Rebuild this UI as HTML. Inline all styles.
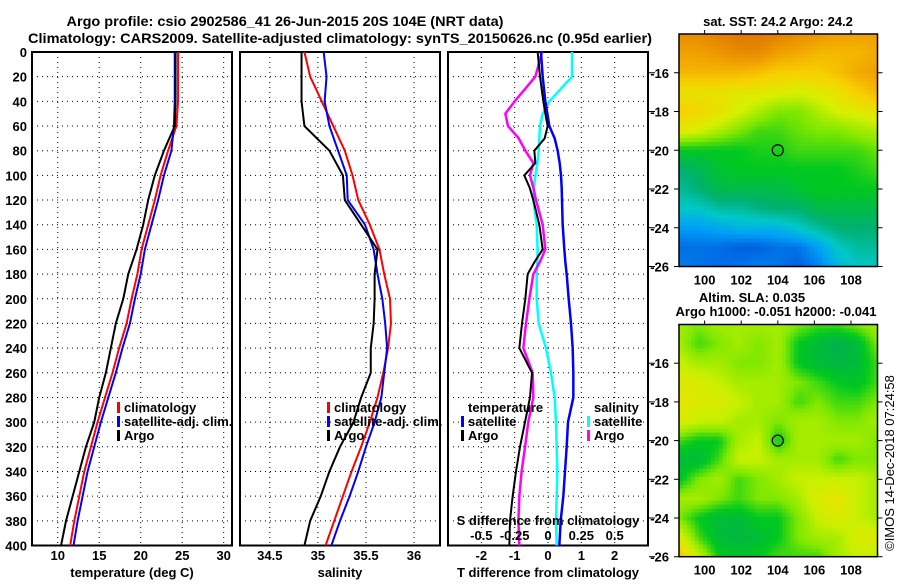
<!DOCTYPE html>
<html><head><meta charset="utf-8"><style>
html,body{margin:0;padding:0;background:#fff}
svg text{font-family:"Liberation Sans",Arial,sans-serif;font-weight:bold;fill:#000}
</style></head><body>
<svg id="fig" width="900" height="580" viewBox="0 0 900 580" xmlns="http://www.w3.org/2000/svg">
<text x="285" y="26" font-size="14" text-anchor="middle" textLength="437" lengthAdjust="spacingAndGlyphs">Argo profile: csio 2902586_41 26-Jun-2015 20S 104E (NRT data)</text>
<text x="340" y="43" font-size="14" text-anchor="middle" textLength="624" lengthAdjust="spacingAndGlyphs">Climatology: CARS2009. Satellite-adjusted climatology: synTS_20150626.nc (0.95d earlier)</text>
<text x="778" y="26" font-size="13" text-anchor="middle">sat. SST: 24.2 Argo: 24.2</text>
<text x="752" y="302" font-size="13" text-anchor="middle">Altim. SLA: 0.035</text>
<text x="776" y="316" font-size="13" text-anchor="middle">Argo h1000: -0.051 h2000: -0.041</text>
<text transform="translate(894,463) rotate(-90)" font-size="13" font-weight="normal" style="font-weight:normal" text-anchor="middle">©IMOS 14-Dec-2018 07:24:58</text>
<g id="g"></g>
</svg>
<script>
// ---- data ----
const depths = [0,20,40,60,80,100,120,140,160,180,200,220,240,260,280,300,320,340,360,380,400];
const tempClim = [24.5,24.5,24.5,24.3,23.3,22.4,21.7,20.9,20.1,19.6,18.9,18.3,17.4,16.6,15.7,14.8,14.0,13.2,12.6,12.0,11.5];
const tempSat  = [24.1,24.1,24.1,24.0,23.7,22.8,22.1,21.3,20.5,20.0,19.3,18.7,17.8,17.0,16.1,15.2,14.4,13.6,13.0,12.4,11.9];
const tempArgo = [24.2,24.2,24.2,24.1,22.8,21.7,20.9,20.3,19.5,18.5,17.9,17.0,16.4,15.8,15.0,14.4,13.4,12.6,11.8,11.0,10.4];
const salClim  = [34.86,34.92,35.04,35.16,35.28,35.36,35.42,35.54,35.64,35.69,35.75,35.76,35.73,35.68,35.62,35.54,35.45,35.35,35.26,35.17,35.08];
const salSat   = [35.06,35.09,35.07,35.12,35.21,35.30,35.31,35.49,35.58,35.62,35.67,35.70,35.72,35.69,35.66,35.59,35.50,35.42,35.33,35.23,35.14];
const salArgo  = [34.83,34.83,34.83,34.86,35.12,35.26,35.28,35.45,35.62,35.59,35.59,35.58,35.55,35.55,35.45,35.37,35.23,35.12,35.03,34.92,34.86];
const dDepths  = [0,20,40,50,60,70,80,90,100,110,120,140,160,170,180,200,220,240,260,280,300,320,340,360,380,400];
const tDiffSat = [-0.21,-0.16,-0.08,-0.02,0.04,0.2,0.29,0.35,0.39,0.41,0.42,0.44,0.49,0.52,0.56,0.62,0.69,0.74,0.76,0.76,0.6,0.56,0.51,0.46,0.38,0.34];
const tDiffArgo= [-0.31,-0.24,-0.14,-0.08,-0.01,-0.1,-0.41,-0.38,-0.71,-0.55,-0.44,-0.26,-0.16,-0.4,-0.61,-0.68,-0.78,-0.86,-0.48,-0.54,-0.69,-0.84,-0.96,-1.06,-1.14,-1.16];
const sDiffArgo= [-0.045,-0.095,-0.25,-0.32,-0.30,-0.22,-0.17,-0.11,-0.135,-0.11,-0.09,-0.04,-0.02,-0.06,-0.11,-0.14,-0.165,-0.185,-0.115,-0.11,-0.148,-0.172,-0.198,-0.215,-0.222,-0.215];
const sDiffSat = [0.18,0.18,0.01,-0.04,-0.06,-0.065,-0.07,-0.08,-0.095,-0.105,-0.11,-0.085,-0.078,-0.08,-0.085,-0.085,-0.07,-0.015,0.022,0.05,0.06,0.065,0.07,0.065,0.06,0.065];
const depthTicks = [0,20,40,60,80,100,120,140,160,180,200,220,240,260,280,300,320,340,360,380,400];
const tempTicks = [10,15,20,25,30];
const salTicks = [34.5,35,35.5,36];
const tdTicks = [-2,-1,0,1,2];
const sdTicks = [-0.5,-0.25,0,0.25,0.5];
const latTicks = [-16,-18,-20,-22,-24,-26];
const lonTicks = [100,102,104,106,108];
const sstGrid = [
[8.5,8.5,8.8,9,9,8.8,8.5,8.3,8,8,8],
[8,8,8.2,8.5,8.5,8,7.8,7.5,7.5,7.5,7.8],
[7.5,7.5,7.5,7.5,7.3,7,7,7,7.3,7.8,8],
[6.5,6.5,6.5,6.3,6.3,6.2,6,6.2,6.5,7,7.5],
[7,6.8,6.5,6,5.5,5,5,5.5,6,6.2,6.5],
[6.3,6,5.5,5,4.5,4.5,4.8,5,5,5.3,5.5],
[4,4,4,4,4.2,4.2,4.5,4.5,4.5,4.5,4.8],
[3,3.3,3.8,4,4,4,4,4,4,4.2,4.5],
[2.5,3,3.5,3.5,3.5,3.5,3.8,4,4,4,4],
[2,2,2.5,2.5,2.8,3,3,3.5,3.5,3.5,3.5],
[1,1,1.2,1.5,1.5,1.5,2,2.5,3,3,3],
[0.2,0.3,0.2,0,0,0.3,0.3,1,2,2.5,2.5],
[0.5,0.3,0.2,0.3,0.5,0.3,0,0.5,1.5,2,2]];
const slaGrid = [
[2.5,2,2.5,2.5,2.5,2.5,2,1.5,1.5,2,2.5],
[2.5,1.5,2,2.5,2,2.5,1,0.5,0,0.5,2],
[3,2.5,2.5,2,2,2.5,1,0.5,0.3,0.5,1.5],
[3.5,3.5,3,2.5,2.5,2.5,2,1.5,1,0.8,1.5],
[4,3.5,3.5,3,2.5,2.5,1.5,2,1.5,1.5,2],
[3.5,3,3,2.5,2.5,2,2.5,2.5,2,2,2.5],
[1.5,1,1,2.5,3,1,2.5,2.5,2.5,2.5,2],
[0.5,0.5,1.5,3,3,2.5,2.5,2.5,1.5,2,2],
[0.8,2,2.5,1.5,2,2.5,3,3,3,3,2.5],
[2.5,2.5,2,1.5,2,2,2.5,3.5,4,3,2.5],
[2,1,0.5,0.5,1,1,2,3,3.5,3,2.5],
[3.5,1.5,0.5,0.3,0.5,1,2,2.5,2.5,3.5,3.5],
[5,3,1,0.8,1,1.5,1.5,1.5,2.5,3,3]];
const sstColors = ["#0060e0","#00a0f8","#00c8c8","#00b070","#00c820","#80e800","#d8f000","#f8d000","#f0a000","#e07800"];
const slaColors = ["#00b050","#00c820","#80e800","#c8f000","#e8e400","#f0c000"];

// ---- helpers ----
const NS="http://www.w3.org/2000/svg", G=document.getElementById('g');
function mk(tag,attrs,parent){const e=document.createElementNS(NS,tag);for(const k in attrs)e.setAttribute(k,attrs[k]);(parent||G).appendChild(e);return e;}
const Y0=52, Y1=545.5;
const yD = d => Y0 + d/400*(Y1-Y0);

function panel(name,x0,x1,dom,ticks,fmt,title){
  const xs = v => x0 + (v-dom[0])/(dom[1]-dom[0])*(x1-x0);
  const g = mk('g',{});
  
  
  ticks.forEach(t=>{
    const l=mk('line',{x1:xs(t),x2:xs(t),y1:Y0,y2:Y1,stroke:'#000','stroke-width':1,'stroke-dasharray':'1,4'},g);
    
    
    const tx=mk('text',{x:xs(t),y:560,'font-size':13,'text-anchor':'middle'},g);
    tx.textContent=fmt(t);
    
    
  });
  depthTicks.forEach(d=>{
    if(d>0&&d<400){
      const l=mk('line',{x1:x0,x2:x1,y1:yD(d),y2:yD(d),stroke:'#000','stroke-width':1,'stroke-dasharray':'1,4'},g);
      
      
    }
  });
  const r=mk('rect',{x:x0,y:Y0,width:x1-x0,height:Y1-Y0,fill:'none',stroke:'#000','stroke-width':2},g);
  
  
  if(title){
    const tt=mk('text',{x:(x0+x1)/2,y:577,'font-size':13,'text-anchor':'middle'},g);
    tt.textContent=title;
    
    
  }
  return xs;
}
function line(xs,vals,ds,color,name,w){
  const p=mk('polyline',{points:vals.map((v,i)=>xs(v)+','+yD(ds[i])).join(' '),fill:'none',stroke:color,'stroke-width':w||2,'stroke-linejoin':'round'});
  
  
}
function legend(x,y,color,label,name){
  if(color){
    const b=mk('rect',{x:x,y:y-10,width:3,height:11,fill:color});
    
    
  }
  const t=mk('text',{x:x+7,y:y,'font-size':13});
  t.textContent=label;
  
  
}

// y labels
depthTicks.forEach(d=>{
  const t=mk('text',{x:27,y:yD(d)+5,'font-size':13,'text-anchor':'end'});
  t.textContent=d;
  
  
});

// panel 1
const xT = panel('temperature-panel',32,232,[6.9,31],tempTicks,v=>v,'temperature (deg C)');
line(xT,tempClim,depths,'#ff0000','temp-climatology-line');
line(xT,tempSat,depths,'#0000ff','temp-satellite-line');
line(xT,tempArgo,depths,'#000000','temp-argo-line');
legend(117,412,'#ff0000','climatology','temp-legend-climatology');
legend(117,426,'#0000ff','satellite-adj. clim.','temp-legend-satellite');
legend(117,440,'#000000','Argo','temp-legend-argo');

// panel 2
const xS = panel('salinity-panel',240,440,[34.19,36.27],salTicks,v=>v,'salinity');
line(xS,salClim,depths,'#ff0000','sal-climatology-line');
line(xS,salSat,depths,'#0000ff','sal-satellite-line');
line(xS,salArgo,depths,'#000000','sal-argo-line');
legend(327,412,'#ff0000','climatology','sal-legend-climatology');
legend(327,426,'#0000ff','satellite-adj. clim.','sal-legend-satellite');
legend(327,440,'#000000','Argo','sal-legend-argo');

// panel 3
const xD = panel('difference-panel',448,648,[-3.0,3.0],tdTicks,v=>v,'T difference from climatology');
const xSD = v => xD(v*4);
line(xSD,sDiffSat,dDepths,'#00ffff','s-diff-satellite-line',2.5);
line(xSD,sDiffArgo,dDepths,'#ff00ff','s-diff-argo-line',2.5);
line(xD,tDiffSat,dDepths,'#0000ff','t-diff-satellite-line',2.5);
line(xD,tDiffArgo,dDepths,'#000000','t-diff-argo-line',2);
legend(461,412,null,'temperature','diff-legend-temperature-header');
legend(461,426,'#0000ff','satellite','diff-legend-t-satellite');
legend(461,440,'#000000','Argo','diff-legend-t-argo');
legend(587,412,null,'salinity','diff-legend-salinity-header');
legend(587,426,'#00ffff','satellite','diff-legend-s-satellite');
legend(587,440,'#ff00ff','Argo','diff-legend-s-argo');
{
  const t=mk('text',{x:548,y:525,'font-size':13,'text-anchor':'middle'});
  t.textContent='S difference from climatology';
  
  
  sdTicks.forEach(v=>{
    const s=mk('text',{x:xSD(v),y:540,'font-size':13,'text-anchor':'middle'});
    s.textContent=v;
    
    
  });
}

// maps
const MX0=679, MX1=877.5, LON0=98.6, LON1=109.45;
const mlon = v => MX0+(v-LON0)/(LON1-LON0)*(MX1-MX0);
function hex2rgb(h){return [1,3,5].map(i=>parseInt(h.substr(i,2),16));}
function cmap(cols,v){
  v=Math.max(0,Math.min(cols.length-1,v));const i=Math.min(cols.length-2,Math.floor(v)),f=v-i;
  const a=hex2rgb(cols[i]),b=hex2rgb(cols[i+1]);
  return 'rgb('+a.map((c,k)=>Math.round(c+(b[k]-c)*f)).join(',')+')';
}
function map(name,top,bottom,grid,cols){
  const mlat = v => top+(-14-v)/12*(bottom-top);
  const g=mk('g',{});
  
  
  const NC=50, NR=58, cw=(MX1-MX0)/NC, ch=(bottom-top)/NR;
  const R=grid.length, C=grid[0].length;
  for(let r=0;r<NR;r++)for(let c=0;c<NC;c++){
    const gy=(r+0.5)/NR*(R-1), gx=(c+0.5)/NC*(C-1);
    const i=Math.min(R-2,Math.floor(gy)), j=Math.min(C-2,Math.floor(gx)), fy=gy-i, fx=gx-j;
    const v=grid[i][j]*(1-fx)*(1-fy)+grid[i][j+1]*fx*(1-fy)+grid[i+1][j]*(1-fx)*fy+grid[i+1][j+1]*fx*fy;
    mk('rect',{x:(MX0+c*cw).toFixed(2),y:(top+r*ch).toFixed(2),width:(cw+0.6).toFixed(2),height:(ch+0.6).toFixed(2),fill:cmap(cols,v)},g);
  }
  const fr=mk('rect',{x:MX0,y:top,width:MX1-MX0,height:bottom-top,fill:'none',stroke:'#000','stroke-width':1.5},g);
  
  
  latTicks.forEach(v=>{
    const y=mlat(v);
    mk('line',{x1:MX0-5,x2:MX0,y1:y,y2:y,stroke:'#000'},g);
    mk('line',{x1:MX1,x2:MX1+5,y1:y,y2:y,stroke:'#000'},g);
    mk('line',{x1:649,x2:655,y1:y,y2:y,stroke:'#000'},g);
    const t=mk('text',{x:669,y:y+5,'font-size':13,'text-anchor':'end'},g);
    t.textContent=v;
    
    
  });
  lonTicks.forEach(v=>{
    const x=mlon(v);
    mk('line',{x1:x,x2:x,y1:top-4,y2:top,stroke:'#000'},g);
    const t=mk('text',{x:x,y:bottom+18,'font-size':13,'text-anchor':'middle'},g);
    t.textContent=v;
    
    
  });
  const c=mk('circle',{cx:mlon(104),cy:mlat(-20),r:5.5,fill:'none',stroke:'#000','stroke-width':1.2},g);
  
  
}
map('sst-map',34,266.5,sstGrid,sstColors);
map('sla-map',324.5,556.7,slaGrid,slaColors);
</script>
</body></html>
